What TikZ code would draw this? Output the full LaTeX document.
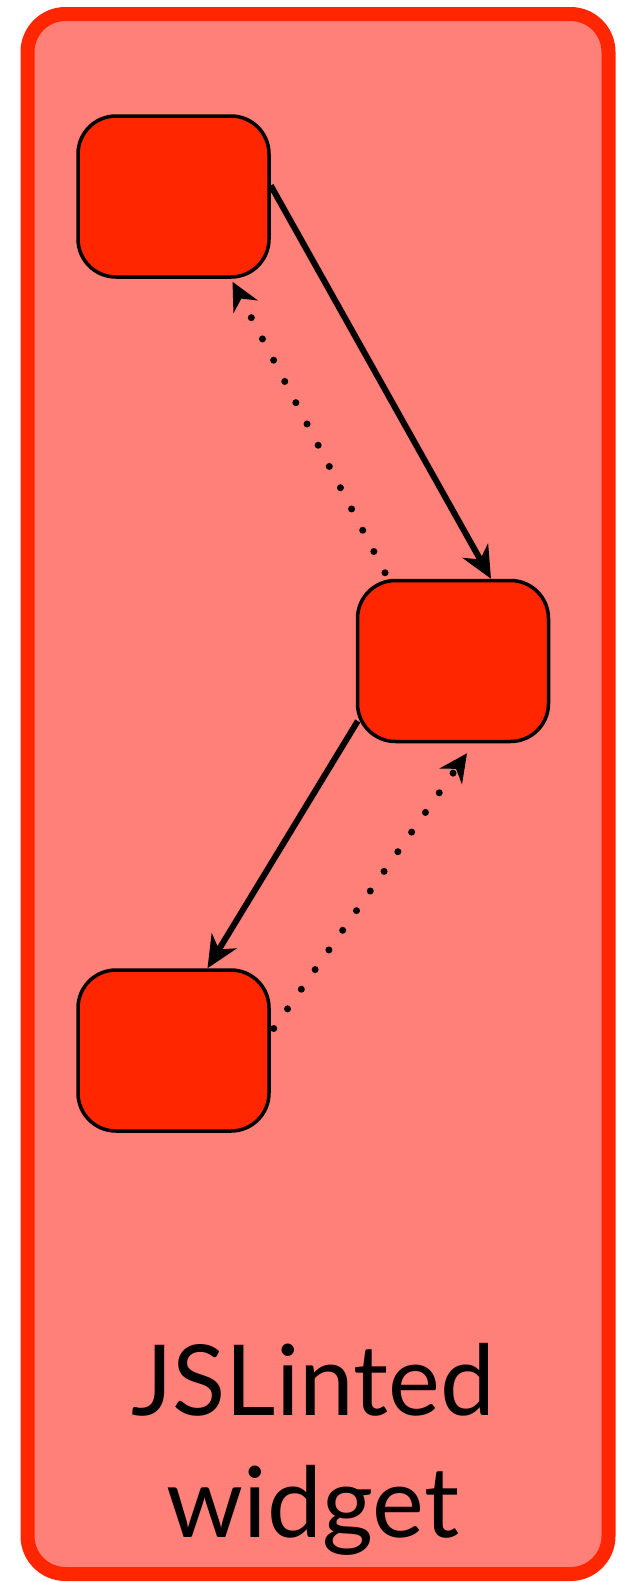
\documentclass[tikz,border=0pt]{standalone}
\usepackage{fontspec}
\setmainfont{Lato}
\usetikzlibrary{calc, positioning, arrows.meta}

\definecolor{graffleRed}{RGB}{255,38,0}
\definecolor{widgetPink}{RGB}{255,127,121}

\begin{document}
\begin{tikzpicture}[
        x=1pt, y=-1pt,
        frame/.style={rectangle, draw=graffleRed, fill=widgetPink, line width=14pt, rounded corners=38pt, minimum width=581pt, minimum height=1560pt},
        part/.style={rectangle, draw=black, fill=graffleRed, line width=3.5pt, rounded corners=38pt, minimum width=191pt, minimum height=161pt},
        flow/.style={-{Stealth[length=32pt, width=29pt, inset=10pt]}, line width=6pt},
        event/.style={-{Stealth[length=28pt, width=27pt, inset=9pt]}, line width=7pt, line cap=round, dash pattern=on 0pt off 24pt}
    ]
    \useasboundingbox (0,0) rectangle (616,1582);

    % widget frame
    \node[frame] (widget) at (318,794) {};

    % parts
    \node[part] (b1) at (173.5,196.5) {};
    \node[part, below right=300pt and 85pt of b1] (b2) {};
    \node[part, below left=225pt and 85pt of b2] (b3) {};

    % label
    \node[align=center, anchor=base, inner sep=0pt, font=\fontsize{98}{122}\selectfont] (name) at (313,1537) {JSLinted\\widget};

    % arrows
    \draw[flow] ($(b1.east)+(0,-11)$) -- ($(b2.north)+(38,0)$);
    \draw[event] ($(b2.north)+(-68,-6)$) -- ($(b1.south)+(59,3)$);
    \draw[flow] ($(b2.west)+(2,60)$) -- ($(b3.north)+(34,0)$);
    \draw[event] ($(b3.east)+(3,-22)$) -- ($(b2.south)+(14,10)$);

\end{tikzpicture}
\end{document}
